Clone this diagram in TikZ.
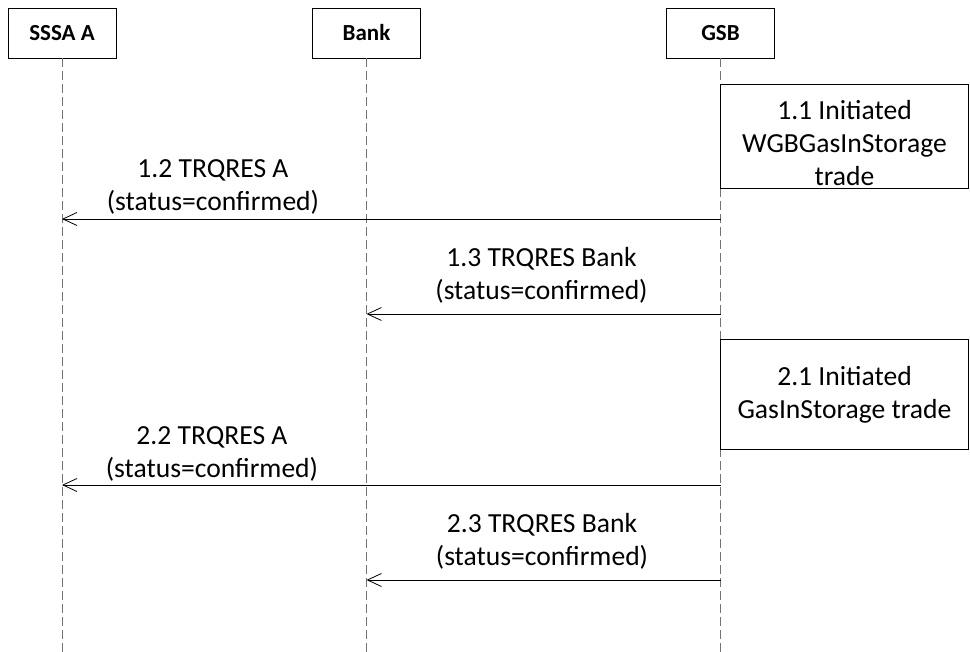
\documentclass[tikz,border=0pt]{standalone}
\usepackage{fontspec}
\setmainfont{Carlito}
\usetikzlibrary{arrows.meta}

\tikzset{
  actor/.style={draw=black, line width=0.9pt, fill=white, minimum width=108pt,
    minimum height=50pt, inner sep=0pt, font=\fontsize{23}{27}\selectfont\bfseries},
  lifeline/.style={draw=black!55, line width=0.8pt, dash pattern=on 9pt off 4pt},
  msg/.style={draw=black, line width=0.9pt,
    -{Straight Barb[length=14pt,width=13pt,line width=0.8pt]}},
  % base anchor sits on the last line of a multi-line label
  msglabel/.style={anchor=base, inner sep=0pt, align=center,
    font=\fontsize{27.6}{33}\selectfont},
  actbox/.style={draw=black, line width=0.9pt, fill=white, inner sep=0pt}
}

\begin{document}
\begin{tikzpicture}[x=1pt,y=-1pt]
  \useasboundingbox (0,0) rectangle (970,652);

  % participants
  \node[actor] (sssa) at (62,33) {SSSA A};
  \node[actor] (bank) at (366.5,33) {Bank};
  \node[actor] (gsb)  at (720.5,33) {GSB};

  % lifeline ends
  \coordinate (sssaend) at (62,652);
  \coordinate (bankend) at (366.5,652);
  \coordinate (gsbend)  at (720.5,652);

  \draw[lifeline] (sssa.south) -- (sssaend);
  \draw[lifeline] (bank.south) -- (bankend);
  \draw[lifeline] (gsb.south)  -- (gsbend);

  % activity boxes on the GSB lifeline
  \path[actbox] (720.5,84) rectangle (968,188);
  \node[msglabel] (t11) at (844.5,185.5) {1.1 Initiated\\WGBGasInStorage\\trade};

  \path[actbox] (720.5,339) rectangle (968,449);
  \node[msglabel] (t21) at (844.5,419) {2.1 Initiated\\GasInStorage trade};

  % message anchor points on the lifelines
  \coordinate (g12) at (720.5,219);  \coordinate (s12) at (62,219);
  \coordinate (g13) at (720.5,314);  \coordinate (b13) at (366.5,314);
  \coordinate (g22) at (720.5,485);  \coordinate (s22) at (62,485);
  \coordinate (g23) at (720.5,580);  \coordinate (b23) at (366.5,580);

  % messages
  \draw[msg] (g12) -- (s12);
  \node[msglabel] (m12) at (213,211) {1.2 TRQRES A\\(status=confirmed)};

  \draw[msg] (g13) -- (b13);
  \node[msglabel] (m13) at (541.5,300) {1.3 TRQRES Bank\\(status=confirmed)};

  \draw[msg] (g22) -- (s22);
  \node[msglabel] (m22) at (212,478) {2.2 TRQRES A\\(status=confirmed)};

  \draw[msg] (g23) -- (b23);
  \node[msglabel] (m23) at (542,565) {2.3 TRQRES Bank\\(status=confirmed)};
\end{tikzpicture}
\end{document}
